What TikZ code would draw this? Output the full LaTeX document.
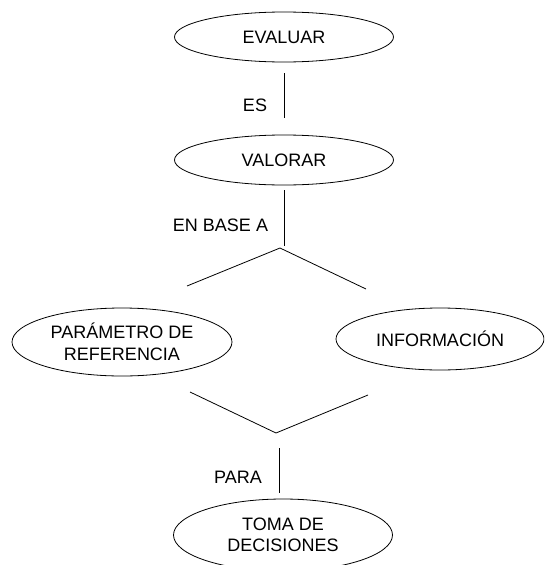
\documentclass[tikz,border=0pt]{standalone}
\usepackage{fontspec}
\setmainfont{Liberation Sans}
\usetikzlibrary{shapes.geometric}
\newcommand{\anchoconcepto}{219pt}
\tikzstyle{concepto}=[
  draw,
  ellipse,
  line width=0.8pt,
  inner sep=0pt,
  align=center,
  minimum width=\anchoconcepto,
  minimum height=50pt,
  font=\fontsize{18}{21.5}\selectfont
]
\tikzstyle{enlace}=[
  line width=0.8pt
]
\tikzstyle{rotulo}=[
  inner sep=0pt,
  font=\fontsize{18}{21.5}\selectfont
]
\begin{document}
\begin{tikzpicture}[x=1pt, y=-1pt]
  \clip (0, 0) rectangle (544, 565);

  \node[concepto                                   ] (evaluar)    at (284,  37) {EVALUAR};
  \node[concepto                                   ] (valorar)    at (284, 160) {VALORAR};
  \node[concepto, minimum width=220pt, minimum height=68pt] (parametro)  at (122, 342) {PARÁMETRO DE\\REFERENCIA};
  \node[concepto, minimum width=208pt, minimum height=62pt] (informacion) at (440, 339) {INFORMACIÓN};
  \node[concepto, minimum height=72pt              ] (toma)       at (283, 535) {TOMA DE\\DECISIONES};

  \coordinate (techo)    at (280, 248);
  \coordinate (techoizq) at (187, 286);
  \coordinate (techoder) at (366, 289);
  \coordinate (vizq)     at (190, 392);
  \coordinate (vfondo)   at (276, 433);
  \coordinate (vder)     at (368, 395);
  \coordinate (para)     at (279, 433);

  \draw[enlace, shorten <=11pt, shorten >=17pt] (evaluar) -- (valorar);
  \draw[enlace, shorten <=5pt, shorten >=2pt] (valorar.south) -- (valorar.south |- techo);
  \draw[enlace] (techoizq) -- (techo) -- (techoder);
  \draw[enlace] (vizq) -- (vfondo) -- (vder);
  \draw[enlace, shorten <=15pt, shorten >=6pt] (para) -- (para |- toma.north);

  \node[rotulo] (es)      at (255, 105)   {ES};
  \node[rotulo] (enbase)  at (220.5, 225) {EN BASE A};
  \node[rotulo] (paralbl) at (238, 477)   {PARA};
\end{tikzpicture}
\end{document}
